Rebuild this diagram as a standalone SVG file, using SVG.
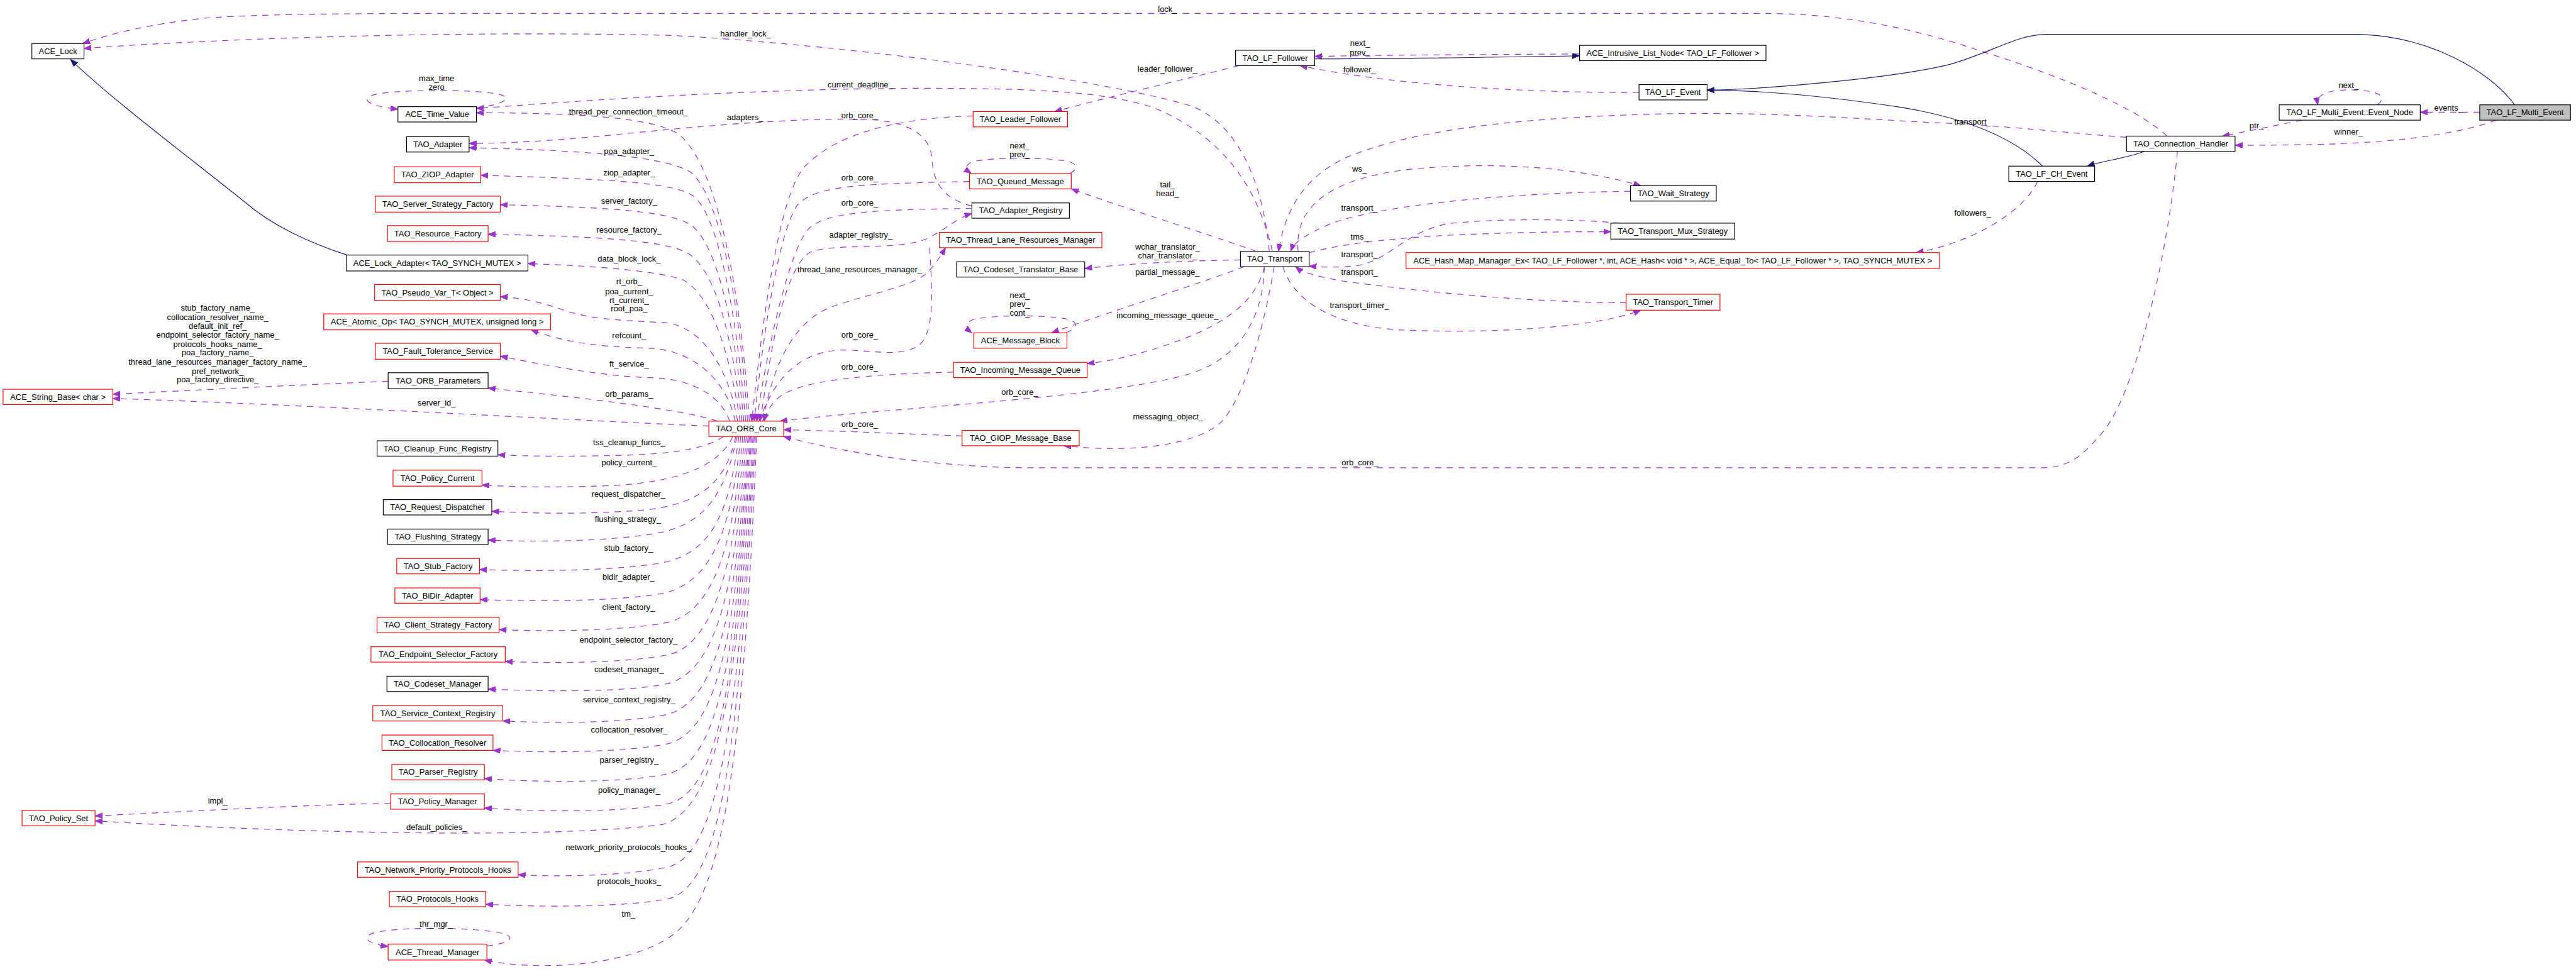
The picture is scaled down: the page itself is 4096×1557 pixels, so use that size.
<svg xmlns="http://www.w3.org/2000/svg" width="4096" height="1557" viewBox="0 0 4096 1557">
<style>
text{font-family:"Liberation Sans",Arial,sans-serif;font-size:13.3px;fill:#000}
.n text,.l{text-anchor:middle}
.nb rect{fill:#fff;stroke:#000;stroke-width:1.2}
.nr rect{fill:#fff;stroke:#f00;stroke-width:1.2}
.ng rect{fill:#bfbfbf;stroke:#000;stroke-width:1.2}
.e{fill:none;stroke:#9a32cd;stroke-width:1.2;stroke-dasharray:10,9;marker-end:url(#pa)}
.i{fill:none;stroke:#191970;stroke-width:1.2;marker-end:url(#na)}
</style>
<defs>
<marker id="pa" markerWidth="14" markerHeight="10" refX="12" refY="4.5" orient="auto" markerUnits="userSpaceOnUse"><path d="M0,0 L12,4.5 L0,9 z" fill="#9a32cd" stroke="#9a32cd" stroke-width="1"/></marker>
<marker id="na" markerWidth="14" markerHeight="10" refX="12" refY="4.5" orient="auto" markerUnits="userSpaceOnUse"><path d="M0,0 L12,4.5 L0,9 z" fill="#191970" stroke="#191970" stroke-width="1"/></marker>
</defs>
<rect x="0" y="0" width="4096" height="1557" fill="#fff"/>
<g transform="scale(0.975)">
<g id="connectors">
<path class="e" d="M 3534,222 C 3480,172 3350,120 3217,79 C 3120,46 3000,22 2880,22 L 1050,22 C 700,22 450,20 330,30 C 240,40 180,55 135,71"/>
<path class="e" d="M 2070,410 C 2060,300 2020,200 1940,172 C 1800,130 1400,75 1100,58 C 800,50 400,60 137,79"/>
<path class="i" d="M 566,416 C 500,395 440,365 400,330 C 300,250 180,160 115,97"/>
<path class="e" d="M 2075,410 C 2050,300 1990,220 1880,175 C 1800,150 1700,144 1500,144 C 1250,145 1000,160 777,177"/>
<path class="e" d="M 1222,687 C 1205,430 1160,255 1104,217 C 1060,192 950,184 777,184"/>
<path class="e" d="M 1585,336 C 1540,325 1522,300 1520,260 C 1518,225 1490,200 1420,195 C 1300,190 1100,210 1000,220 C 900,230 820,234 765,234"/>
<path class="e" d="M 1219,687 C 1205,470 1170,320 1128,282 C 1090,255 950,245 765,241"/>
<path class="e" d="M 1216,687 C 1200,500 1170,350 1131,320 C 1100,298 1000,292 784,286"/>
<path class="e" d="M 1213,687 C 1198,530 1170,400 1128,368 C 1095,345 1000,338 816,334"/>
<path class="e" d="M 1210,687 C 1195,560 1170,440 1120,412 C 1080,392 980,386 796,382"/>
<path class="e" d="M 1207,687 C 1192,590 1165,485 1115,457 C 1080,443 980,434 861,430"/>
<path class="e" d="M 1203,687 C 1190,610 1150,530 1080,526 C 1000,522 960,520 917,505 C 880,492 850,486 816,484"/>
<path class="e" d="M 1199,687 C 1188,630 1140,572 1060,568 C 990,566 930,562 866,538"/>
<path class="e" d="M 1190,687 C 1175,645 1130,618 1060,616 C 990,614 910,600 816,581"/>
<path class="e" d="M 1170,687 C 1120,670 1000,654 796,633"/>
<path class="e" d="M 1156,695 C 900,684 500,660 184,650"/>
<path class="e" d="M 633,622 C 480,628 330,636 184,643"/>
<path class="e" d="M 1180,712 C 1150,732 1100,741 1000,743 C 920,745 860,744 812,742"/>
<path class="e" d="M 1195,712 C 1175,755 1120,785 1000,792 C 900,796 830,794 786,791"/>
<path class="e" d="M 1200,712 C 1185,780 1150,822 1050,832 C 950,840 860,837 802,834"/>
<path class="e" d="M 1202,712 C 1185,790 1160,850 1080,868 C 1000,884 870,884 796,881"/>
<path class="e" d="M 1205,712 C 1190,820 1170,900 1080,918 C 1000,932 860,932 782,929"/>
<path class="e" d="M 1208,712 C 1195,840 1170,950 1080,968 C 1000,982 860,981 783,978"/>
<path class="e" d="M 1211,712 C 1198,870 1170,1000 1085,1016 C 1010,1030 880,1030 814,1027"/>
<path class="e" d="M 1214,712 C 1200,900 1170,1050 1090,1068 C 1020,1082 900,1082 824,1079"/>
<path class="e" d="M 1217,712 C 1200,940 1175,1090 1090,1115 C 1020,1130 880,1128 796,1124"/>
<path class="e" d="M 1220,712 C 1200,980 1175,1140 1090,1165 C 1020,1180 900,1180 820,1176"/>
<path class="e" d="M 1222,712 C 1200,1020 1175,1190 1090,1213 C 1020,1228 880,1228 804,1224"/>
<path class="e" d="M 1224,712 C 1200,1060 1175,1240 1090,1262 C 1020,1278 870,1276 790,1270"/>
<path class="e" d="M 1226,712 C 1200,1100 1175,1290 1090,1311 C 1020,1326 870,1324 790,1318"/>
<path class="e" d="M 1228,712 C 1205,1120 1170,1320 1080,1345 C 900,1368 500,1360 155,1339"/>
<path class="e" d="M 1230,712 C 1205,1180 1170,1395 1090,1414 C 1020,1430 900,1430 845,1427"/>
<path class="e" d="M 1232,712 C 1205,1230 1175,1445 1090,1466 C 1020,1480 880,1480 792,1475"/>
<path class="e" d="M 1234,712 C 1210,1300 1170,1480 1090,1530 C 1020,1575 880,1585 790,1566"/>
<path class="e" d="M 637,1310 C 480,1314 330,1322 155,1331"/>
<path class="e" d="M 777,176 C 825,170 840,158 810,153 C 760,145 650,146 612,154 C 585,161 600,173 649,178"/>
<path class="e" d="M 794,1543 C 835,1538 845,1527 812,1521 C 760,1512 650,1512 612,1521 C 586,1528 600,1540 633,1544"/>
<path class="e" d="M 1587,189 C 1450,193 1360,222 1312,272 C 1272,318 1246,500 1226,687"/>
<path class="e" d="M 1581,296 C 1420,300 1330,300 1300,335 C 1270,380 1245,540 1230,687"/>
<path class="e" d="M 1585,340 C 1430,342 1350,345 1320,372 C 1290,400 1252,560 1234,687"/>
<path class="e" d="M 1240,687 C 1258,560 1280,440 1320,412 C 1360,395 1460,410 1510,390 C 1540,376 1560,356 1585,348"/>
<path class="e" d="M 1244,687 C 1260,600 1290,530 1350,503 C 1410,480 1480,470 1510,447 C 1525,432 1535,416 1542,404"/>
<path class="e" d="M 1516,404 C 1520,470 1525,540 1500,562 C 1470,585 1420,570 1370,571 C 1300,575 1262,620 1238,687"/>
<path class="e" d="M 1555,607 C 1420,610 1300,620 1268,650 C 1254,663 1249,675 1246,687"/>
<path class="e" d="M 2062,435 C 2060,520 2020,585 1940,610 C 1800,650 1450,665 1272,687"/>
<path class="e" d="M 1569,711 C 1480,708 1380,703 1278,701"/>
<path class="e" d="M 3551,247 C 3535,420 3480,660 3420,715 C 3395,745 3370,763 3330,763 L 1680,763 C 1560,763 1400,745 1278,712"/>
<path class="e" d="M 2021,107 C 1950,125 1800,160 1720,182"/>
<path class="e" d="M 1745,283 C 1760,275 1757,265 1735,262 C 1690,256 1620,257 1590,263 C 1572,268 1574,276 1584,283"/>
<path class="e" d="M 2049,410 C 1950,375 1850,345 1747,308"/>
<path class="e" d="M 2023,424 C 1900,426 1820,432 1769,438"/>
<path class="e" d="M 2029,435 C 1950,465 1790,515 1715,543"/>
<path class="e" d="M 1738,543 C 1758,535 1760,524 1738,520 C 1700,513 1620,514 1588,521 C 1572,526 1575,535 1585,543"/>
<path class="e" d="M 2062,435 C 2045,510 1960,545 1880,570 C 1830,585 1800,590 1773,593"/>
<path class="e" d="M 2078,435 C 2062,530 2030,650 1990,690 C 1950,725 1850,740 1735,727"/>
<path class="e" d="M 2576,88 C 2400,89 2250,90 2144,92"/>
<path class="i" d="M 2144,96 C 2300,96 2450,93 2576,91"/>
<path class="e" d="M 2673,151 C 2450,151 2250,135 2120,107"/>
<path class="i" d="M 3331,271 C 3290,230 3220,195 3100,175 C 3000,160 2880,147 2784,147"/>
<path class="i" d="M 4101,171 C 4060,115 3960,58 3844,56 L 3337,56 C 3290,56 3250,85 3180,105 C 3100,125 2900,145 2784,147"/>
<path class="e" d="M 2117,410 C 2110,330 2180,290 2300,276 C 2450,262 2580,275 2676,303"/>
<path class="e" d="M 2659,312 C 2450,315 2250,335 2170,365 C 2130,382 2110,395 2105,410"/>
<path class="e" d="M 3468,224 C 3350,215 3250,203 3150,200 C 2980,190 2850,182 2700,186 C 2450,193 2300,215 2200,255 C 2120,290 2095,350 2085,410"/>
<path class="e" d="M 2135,412 C 2200,395 2300,385 2430,381 C 2520,378 2580,378 2627,378"/>
<path class="e" d="M 2642,364 C 2580,358 2450,355 2360,365 C 2290,380 2270,420 2220,432 C 2190,437 2160,436 2135,434"/>
<path class="e" d="M 2652,494 C 2450,492 2280,470 2200,460 C 2150,452 2125,445 2113,435"/>
<path class="e" d="M 2092,435 C 2110,490 2170,530 2280,538 C 2430,545 2600,535 2676,506"/>
<path class="i" d="M 3497,247 C 3470,258 3430,262 3404,271"/>
<path class="e" d="M 3323,296 C 3300,345 3220,395 3125,412"/>
<path class="e" d="M 3754,196 C 3710,205 3660,215 3624,222"/>
<path class="e" d="M 4071,196 C 3990,225 3880,232 3800,235 C 3720,237 3680,237 3645,237"/>
<path class="e" d="M 4044,183 L 3947,183"/>
<path class="e" d="M 3877,171 C 3892,160 3885,149 3845,147 C 3800,145 3776,152 3780,171"/>
<g id="edge-labels">
<text class="l" x="1904" y="19">lock_</text>
<text class="l" x="1216" y="60">handler_lock_</text>
<text class="l" x="2218" y="75">next_</text>
<text class="l" x="2218" y="90">prev_</text>
<text class="l" x="1904" y="117">leader_follower_</text>
<text class="l" x="2217" y="118">follower_</text>
<text class="l" x="712" y="132">max_time</text>
<text class="l" x="712" y="147">zero</text>
<text class="l" x="1403" y="143">current_deadline_</text>
<text class="l" x="1025" y="187">thread_per_connection_timeout_</text>
<text class="l" x="1402" y="193">orb_core_</text>
<text class="l" x="1215" y="196">adapters_</text>
<text class="l" x="3830" y="144">next_</text>
<text class="l" x="3993" y="181">events_</text>
<text class="l" x="3217" y="203">transport_</text>
<text class="l" x="3680" y="209">ptr_</text>
<text class="l" x="3830" y="220">winner_</text>
<text class="l" x="1663" y="242">next_</text>
<text class="l" x="1663" y="256">prev_</text>
<text class="l" x="1026" y="251">poa_adapter_</text>
<text class="l" x="2217" y="280">ws_</text>
<text class="l" x="1026" y="286">ziop_adapter_</text>
<text class="l" x="1402" y="294">orb_core_</text>
<text class="l" x="1904" y="306">tail_</text>
<text class="l" x="1904" y="320">head_</text>
<text class="l" x="1026" y="332">server_factory_</text>
<text class="l" x="1402" y="335">orb_core_</text>
<text class="l" x="2217" y="344">transport_</text>
<text class="l" x="3217" y="352">followers_</text>
<text class="l" x="1026" y="380">resource_factory_</text>
<text class="l" x="1404" y="388">adapter_registry_</text>
<text class="l" x="2217" y="391">tms_</text>
<text class="l" x="1904" y="407">wchar_translator_</text>
<text class="l" x="1904" y="422">char_translator_</text>
<text class="l" x="2217" y="420">transport_</text>
<text class="l" x="1026" y="427">data_block_lock_</text>
<text class="l" x="1402" y="444">thread_lane_resources_manager_</text>
<text class="l" x="1904" y="448">partial_message_</text>
<text class="l" x="2217" y="448">transport_</text>
<text class="l" x="1026" y="464">rt_orb_</text>
<text class="l" x="1026" y="480">poa_current_</text>
<text class="l" x="1026" y="494">rt_current_</text>
<text class="l" x="1026" y="508">root_poa_</text>
<text class="l" x="1663" y="486">next_</text>
<text class="l" x="1663" y="501">prev_</text>
<text class="l" x="1663" y="515">cont_</text>
<text class="l" x="2217" y="503">transport_timer_</text>
<text class="l" x="355" y="507">stub_factory_name_</text>
<text class="l" x="355" y="522">collocation_resolver_name_</text>
<text class="l" x="355" y="536">default_init_ref_</text>
<text class="l" x="355" y="551">endpoint_selector_factory_name_</text>
<text class="l" x="355" y="566">protocols_hooks_name_</text>
<text class="l" x="355" y="580">poa_factory_name_</text>
<text class="l" x="355" y="595">thread_lane_resources_manager_factory_name_</text>
<text class="l" x="355" y="610">pref_network_</text>
<text class="l" x="355" y="624">poa_factory_directive_</text>
<text class="l" x="1904" y="519">incoming_message_queue_</text>
<text class="l" x="1402" y="551">orb_core_</text>
<text class="l" x="1026" y="552">refcount_</text>
<text class="l" x="1026" y="598">ft_service_</text>
<text class="l" x="1402" y="603">orb_core_</text>
<text class="l" x="1663" y="644">orb_core_</text>
<text class="l" x="1026" y="647">orb_params_</text>
<text class="l" x="712" y="662">server_id_</text>
<text class="l" x="1905" y="684">messaging_object_</text>
<text class="l" x="1402" y="696">orb_core_</text>
<text class="l" x="1026" y="726">tss_cleanup_funcs_</text>
<text class="l" x="2218" y="759">orb_core_</text>
<text class="l" x="1026" y="759">policy_current_</text>
<text class="l" x="1025" y="810">request_dispatcher_</text>
<text class="l" x="1024" y="851">flushing_strategy_</text>
<text class="l" x="1025" y="898">stub_factory_</text>
<text class="l" x="1025" y="946">bidir_adapter_</text>
<text class="l" x="1025" y="995">client_factory_</text>
<text class="l" x="1025" y="1048">endpoint_selector_factory_</text>
<text class="l" x="1026" y="1096">codeset_manager_</text>
<text class="l" x="1026" y="1146">service_context_registry_</text>
<text class="l" x="1026" y="1195">collocation_resolver_</text>
<text class="l" x="1026" y="1244">parser_registry_</text>
<text class="l" x="1026" y="1293">policy_manager_</text>
<text class="l" x="355" y="1311">impl_</text>
<text class="l" x="712" y="1354">default_policies_</text>
<text class="l" x="1025" y="1387">network_priority_protocols_hooks_</text>
<text class="l" x="1026" y="1442">protocols_hooks_</text>
<text class="l" x="1025" y="1495">tm_</text>
<text class="l" x="711" y="1512">thr_mgr_</text>
</g>
</g>
<g id="n_ACE_Lock" class="n nb"><rect x="52" y="71" width="85" height="25"/><text x="94.5" y="88.1">ACE_Lock</text></g>
<g id="n_ACE_Time_Value" class="n nb"><rect x="649" y="174" width="128" height="25"/><text x="713" y="191.1">ACE_Time_Value</text></g>
<g id="n_TAO_Adapter" class="n nb"><rect x="663" y="223" width="102" height="25"/><text x="714" y="240.1">TAO_Adapter</text></g>
<g id="n_TAO_ZIOP_Adapter" class="n nr"><rect x="643" y="272" width="141" height="26"/><text x="713.5" y="289.6">TAO_ZIOP_Adapter</text></g>
<g id="n_TAO_Server_Strategy_Factory" class="n nr"><rect x="612" y="320" width="204" height="26"/><text x="714" y="337.6">TAO_Server_Strategy_Factory</text></g>
<g id="n_TAO_Resource_Factory" class="n nr"><rect x="632" y="368" width="164" height="26"/><text x="714" y="385.6">TAO_Resource_Factory</text></g>
<g id="n_ACE_Lock_Adapter" class="n nb"><rect x="565" y="416" width="296" height="26"/><text x="713" y="433.6">ACE_Lock_Adapter&lt; TAO_SYNCH_MUTEX &gt;</text></g>
<g id="n_TAO_Pseudo_Var_T" class="n nr"><rect x="611" y="464" width="205" height="26"/><text x="713.5" y="481.6">TAO_Pseudo_Var_T&lt; Object &gt;</text></g>
<g id="n_ACE_Atomic_Op" class="n nr"><rect x="528" y="512" width="370" height="26"/><text x="713" y="529.6">ACE_Atomic_Op&lt; TAO_SYNCH_MUTEX, unsigned long &gt;</text></g>
<g id="n_TAO_Fault_Tolerance_Service" class="n nr"><rect x="612" y="560" width="204" height="26"/><text x="714" y="577.6">TAO_Fault_Tolerance_Service</text></g>
<g id="n_TAO_ORB_Parameters" class="n nb"><rect x="633" y="608" width="163" height="26"/><text x="714.5" y="625.6">TAO_ORB_Parameters</text></g>
<g id="n_ACE_String_Base" class="n nr"><rect x="5" y="635" width="179" height="25"/><text x="94.5" y="652.1">ACE_String_Base&lt; char &gt;</text></g>
<g id="n_TAO_Cleanup_Func_Registry" class="n nb"><rect x="615" y="719" width="197" height="25"/><text x="713.5" y="736.1">TAO_Cleanup_Func_Registry</text></g>
<g id="n_TAO_Policy_Current" class="n nr"><rect x="641" y="767" width="145" height="26"/><text x="713.5" y="784.6">TAO_Policy_Current</text></g>
<g id="n_TAO_Request_Dispatcher" class="n nb"><rect x="625" y="815" width="177" height="25"/><text x="713.5" y="832.1">TAO_Request_Dispatcher</text></g>
<g id="n_TAO_Flushing_Strategy" class="n nb"><rect x="632" y="863" width="164" height="25"/><text x="714" y="880.1">TAO_Flushing_Strategy</text></g>
<g id="n_TAO_Stub_Factory" class="n nr"><rect x="647" y="911" width="135" height="25"/><text x="714.5" y="928.1">TAO_Stub_Factory</text></g>
<g id="n_TAO_BiDir_Adapter" class="n nr"><rect x="644" y="959" width="139" height="25"/><text x="713.5" y="976.1">TAO_BiDir_Adapter</text></g>
<g id="n_TAO_Client_Strategy_Factory" class="n nr"><rect x="615" y="1007" width="199" height="25"/><text x="714.5" y="1024.1">TAO_Client_Strategy_Factory</text></g>
<g id="n_TAO_Endpoint_Selector_Factory" class="n nr"><rect x="605" y="1055" width="219" height="25"/><text x="714.5" y="1072.1">TAO_Endpoint_Selector_Factory</text></g>
<g id="n_TAO_Codeset_Manager" class="n nb"><rect x="631" y="1103" width="165" height="25"/><text x="713.5" y="1120.1">TAO_Codeset_Manager</text></g>
<g id="n_TAO_Service_Context_Registry" class="n nr"><rect x="608" y="1151" width="212" height="25"/><text x="714" y="1168.1">TAO_Service_Context_Registry</text></g>
<g id="n_TAO_Collocation_Resolver" class="n nr"><rect x="623" y="1199" width="181" height="25"/><text x="713.5" y="1216.1">TAO_Collocation_Resolver</text></g>
<g id="n_TAO_Parser_Registry" class="n nr"><rect x="639" y="1247" width="151" height="25"/><text x="714.5" y="1264.1">TAO_Parser_Registry</text></g>
<g id="n_TAO_Policy_Manager" class="n nr"><rect x="637" y="1295" width="153" height="25"/><text x="713.5" y="1312.1">TAO_Policy_Manager</text></g>
<g id="n_TAO_Policy_Set" class="n nr"><rect x="36" y="1322" width="119" height="25"/><text x="95.5" y="1339.1">TAO_Policy_Set</text></g>
<g id="n_TAO_Network_Priority_Protocols_Hooks" class="n nr"><rect x="583" y="1406" width="262" height="25"/><text x="714" y="1423.1">TAO_Network_Priority_Protocols_Hooks</text></g>
<g id="n_TAO_Protocols_Hooks" class="n nr"><rect x="635" y="1454" width="157" height="25"/><text x="713.5" y="1471.1">TAO_Protocols_Hooks</text></g>
<g id="n_ACE_Thread_Manager" class="n nr"><rect x="633" y="1540" width="161" height="26"/><text x="713.5" y="1557.6">ACE_Thread_Manager</text></g>
<g id="n_TAO_ORB_Core" class="n nr"><rect x="1156" y="687" width="122" height="25"/><text x="1217" y="704.1">TAO_ORB_Core</text></g>
<g id="n_TAO_Leader_Follower" class="n nr"><rect x="1587" y="182" width="154" height="25"/><text x="1664" y="199.1">TAO_Leader_Follower</text></g>
<g id="n_TAO_Queued_Message" class="n nr"><rect x="1581" y="283" width="166" height="25"/><text x="1664" y="300.1">TAO_Queued_Message</text></g>
<g id="n_TAO_Adapter_Registry" class="n nb"><rect x="1585" y="331" width="159" height="25"/><text x="1664.5" y="348.1">TAO_Adapter_Registry</text></g>
<g id="n_TAO_Thread_Lane_Resources_Manager" class="n nr"><rect x="1532" y="379" width="265" height="25"/><text x="1664.5" y="396.1">TAO_Thread_Lane_Resources_Manager</text></g>
<g id="n_TAO_Codeset_Translator_Base" class="n nb"><rect x="1560" y="427" width="209" height="25"/><text x="1664.5" y="444.1">TAO_Codeset_Translator_Base</text></g>
<g id="n_ACE_Message_Block" class="n nr"><rect x="1588" y="543" width="152" height="25"/><text x="1664" y="560.1">ACE_Message_Block</text></g>
<g id="n_TAO_Incoming_Message_Queue" class="n nr"><rect x="1555" y="591" width="218" height="25"/><text x="1664" y="608.1">TAO_Incoming_Message_Queue</text></g>
<g id="n_TAO_GIOP_Message_Base" class="n nr"><rect x="1569" y="702" width="191" height="25"/><text x="1664.5" y="719.1">TAO_GIOP_Message_Base</text></g>
<g id="n_TAO_Transport" class="n nb"><rect x="2023" y="410" width="112" height="25"/><text x="2079" y="427.1">TAO_Transport</text></g>
<g id="n_TAO_LF_Follower" class="n nb"><rect x="2015" y="82" width="129" height="25"/><text x="2079.5" y="99.1">TAO_LF_Follower</text></g>
<g id="n_ACE_Intrusive_List_Node" class="n nb"><rect x="2576" y="74" width="304" height="25"/><text x="2728" y="91.1">ACE_Intrusive_List_Node&lt; TAO_LF_Follower &gt;</text></g>
<g id="n_TAO_LF_Event" class="n nb"><rect x="2673" y="138" width="111" height="25"/><text x="2728.5" y="155.1">TAO_LF_Event</text></g>
<g id="n_TAO_Wait_Strategy" class="n nb"><rect x="2659" y="303" width="140" height="25"/><text x="2729" y="320.1">TAO_Wait_Strategy</text></g>
<g id="n_TAO_Transport_Mux_Strategy" class="n nb"><rect x="2627" y="364" width="202" height="26"/><text x="2728" y="381.6">TAO_Transport_Mux_Strategy</text></g>
<g id="n_ACE_Hash_Map_Manager_Ex" class="n nr"><rect x="2293" y="412" width="870" height="26"/><text x="2728" y="429.6">ACE_Hash_Map_Manager_Ex&lt; TAO_LF_Follower *, int, ACE_Hash&lt; void * &gt;, ACE_Equal_To&lt; TAO_LF_Follower * &gt;, TAO_SYNCH_MUTEX &gt;</text></g>
<g id="n_TAO_Transport_Timer" class="n nr"><rect x="2652" y="480" width="153" height="26"/><text x="2728.5" y="497.6">TAO_Transport_Timer</text></g>
<g id="n_TAO_Connection_Handler" class="n nb"><rect x="3468" y="222" width="177" height="25"/><text x="3556.5" y="239.1">TAO_Connection_Handler</text></g>
<g id="n_TAO_LF_CH_Event" class="n nb"><rect x="3276" y="271" width="140" height="25"/><text x="3346" y="288.1">TAO_LF_CH_Event</text></g>
<g id="n_TAO_LF_Multi_Event_Event_Node" class="n nb"><rect x="3717" y="171" width="230" height="25"/><text x="3832" y="188.1">TAO_LF_Multi_Event::Event_Node</text></g>
<g id="n_TAO_LF_Multi_Event" class="n ng"><rect x="4044" y="171" width="148" height="25"/><text x="4118" y="188.1">TAO_LF_Multi_Event</text></g>
</g>
</svg>
